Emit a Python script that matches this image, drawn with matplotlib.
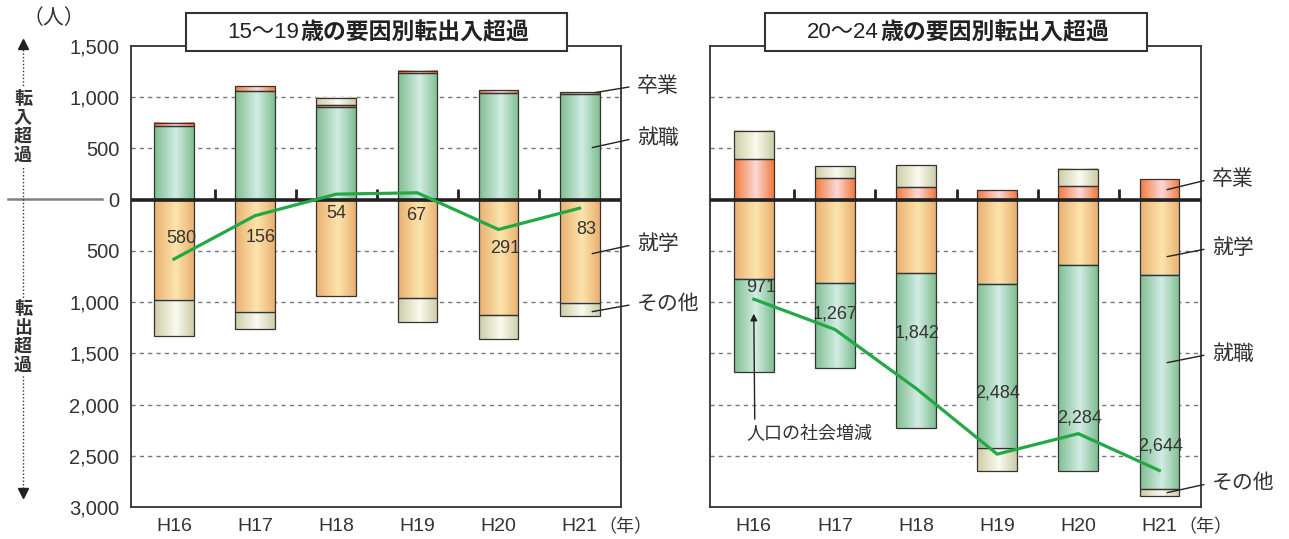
import numpy as np
import matplotlib
matplotlib.use('Agg')
import matplotlib.pyplot as plt
from matplotlib.colors import LinearSegmentedColormap
from matplotlib.patches import Rectangle
from matplotlib.lines import Line2D
from matplotlib.transforms import blended_transform_factory

NUM = ['Liberation Sans', 'Noto Sans CJK JP', 'DejaVu Sans']
JP = ['Noto Sans CJK JP', 'DejaVu Sans']
plt.rcParams['font.family'] = NUM

years = ['H16', 'H17', 'H18', 'H19', 'H20', 'H21']

# 15～19歳
teen_sotsugyo = [33, 46, 20, 22, 29, 19]
teen_shushoku = [719, 1064, 901, 1237, 1041, 1032]
teen_shugaku = [-979, -1097, -939, -963, -1129, -1005]
teen_sonota = [-353, -169, 72, -229, -232, -129]
teen_net = [-580, -156, 54, 67, -291, -83]

# 20～24歳
young_sotsugyo = [394, 212, 127, 94, 130, 202]
young_shushoku = [-908, -830, -1507, -1601, -2014, -2089]
young_shugaku = [-774, -813, -719, -823, -638, -739]
young_sonota = [276, 117, 211, -228, 169, -65]
young_net = [-971, -1267, -1842, -2484, -2284, -2644]

# gradient (edge, highlight) per factor
shades = {
    '卒業': ('#f27a3e', '#fcd9d6'),
    '就職': ('#7fbe90', '#d2ece4'),
    '就学': ('#e9b070', '#fde4ac'),
    'その他': ('#cdcda6', '#fafaf0'),
}
pos_order = ['就職', '卒業', 'その他']
neg_order = ['就学', '就職', 'その他']

W, H = 1289, 539
BAR_W = 0.49
XMIN, XMAX = -0.535, 5.51
grad = np.linspace(0, 1, 128)[np.newaxis, :]


def fx(px):
    return px / W


def fy(py):
    return 1 - py / H


def draw_panel(ax, parts, net, label_dx, label_y):
    x = np.arange(len(years))
    for v in np.arange(-2500, 1001, 500):
        if v != 0:
            ax.axhline(v, color='#777777', lw=1, ls=(0, (3, 3)), zorder=1)

    top = np.zeros(len(years))
    low = np.zeros(len(years))
    stack = [(n, 1) for n in pos_order] + [(n, -1) for n in neg_order]
    for name, sign in stack:
        vals = np.array(parts[name], dtype=float)
        vals = np.where(np.sign(vals) == sign, vals, 0)
        base = top if sign > 0 else low
        edge, light = shades[name]
        cmap = LinearSegmentedColormap.from_list(
            name, [(0, edge), (0.55, light), (1, edge)])
        for i in x:
            if vals[i] == 0:
                continue
            y0, y1 = sorted([base[i], base[i] + vals[i]])
            ax.imshow(grad, extent=(i - BAR_W / 2, i + BAR_W / 2, y0, y1),
                      cmap=cmap, aspect='auto', interpolation='bilinear',
                      zorder=2)
        ax.bar(x[vals != 0], vals[vals != 0], bottom=base[vals != 0],
               width=BAR_W, fill=False, edgecolor='#333333', lw=0.9, zorder=3)
        if sign > 0:
            top = top + vals
        else:
            low = low + vals

    ax.axhline(0, color='#222222', lw=2.6, zorder=3)
    ax.vlines(x[:-1] + 0.5, 0, 100, color='#222222', lw=2, zorder=3)
    ax.plot(x, net, color='#22a845', lw=2.3, zorder=4)
    for i, v in enumerate(net):
        ax.text(i + label_dx[i], label_y[i], f'{abs(v):,}', ha='center',
                va='center', fontsize=13, color='#333333', zorder=5)

    ax.set_xlim(XMIN, XMAX)
    ax.set_ylim(-3000, 1500)
    ax.set_xticks(x)
    ax.set_xticklabels(years, fontsize=14, color='#333333')
    ax.tick_params(axis='x', length=0, pad=8)
    for s in ax.spines.values():
        s.set_color('#333333')
        s.set_linewidth(1.3)
    tr = blended_transform_factory(ax.transData, ax.transAxes)
    ax.text(5.23, -0.043, '（年）', transform=tr, ha='left', va='center',
            fontsize=13, family=JP, color='#333333')


def side_labels(ax, starts, texts_y, text_x):
    for (name, (sx, sy)), ty in zip(starts.items(), texts_y):
        ax.annotate(name, xy=(sx, sy), xytext=(text_x, ty), ha='left',
                    va='center', fontsize=15, family=JP, color='#333333',
                    annotation_clip=False,
                    arrowprops=dict(arrowstyle='-', color='#222222', lw=1,
                                    shrinkA=4, shrinkB=0, relpos=(0, 0.5)))


fig = plt.figure(figsize=(W / 100, H / 100), dpi=100)
ax1 = fig.add_axes([fx(130.6), fy(507), fx(490.4), 461 / H])
ax2 = fig.add_axes([fx(710.4), fy(507), fx(490.4), 461 / H])

draw_panel(ax1,
           {'卒業': teen_sotsugyo, '就職': teen_shushoku,
            '就学': teen_shugaku, 'その他': teen_sonota},
           teen_net,
           [0.09, 0.07, 0.0, -0.02, 0.08, 0.08],
           [-381, -371, -137, -156, -478, -293])
draw_panel(ax2,
           {'卒業': young_sotsugyo, '就職': young_shushoku,
            '就学': young_shugaku, 'その他': young_sonota},
           young_net,
           [0.09, 0.0, 0.01, 0.0, 0.02, 0.01],
           [-859, -1113, -1299, -1885, -2129, -2402])

yt = np.arange(-3000, 1501, 500)
ax1.set_yticks(yt)
ax1.set_yticklabels([f'{abs(v):,}' for v in yt], fontsize=14.5,
                    color='#333333')
ax1.tick_params(axis='y', length=0, pad=8)
ax2.set_yticks(yt)
ax2.set_yticklabels([])
ax2.tick_params(axis='y', length=0)

side_labels(ax1, {'卒業': (5.19, 1045), '就職': (5.155, 508),
                  '就学': (5.155, -527), 'その他': (5.155, -1093)},
            [1113, 605, -430, -1015], 5.71)
side_labels(ax2, {'卒業': (5.095, 98), '就学': (5.095, -556),
                  '就職': (5.095, -1591), 'その他': (5.095, -2860)},
            [205, -469, -1503, -2763], 5.65)

ax2.annotate('人口の社会増減', xy=(0, -1113), xytext=(0.68, -2284),
             ha='center', va='center', fontsize=13, family=JP,
             color='#333333',
             arrowprops=dict(arrowstyle='-|>', color='#222222', lw=1,
                             mutation_scale=10, shrinkA=2, shrinkB=0,
                             relpos=(0.07, 1.0)))

# title boxes
for (x0, x1), num, split in [((186, 567), '15～19', 299),
                             ((765, 1147), '20～24', 879)]:
    fig.add_artist(Rectangle((fx(x0), fy(51)), fx(x1 - x0), 38 / H,
                             transform=fig.transFigure, facecolor='white',
                             edgecolor='#333333', lw=1.5, zorder=10))
    fig.text(fx(split), fy(33), num, ha='right', va='center', fontsize=16,
             color='#222222', zorder=11)
    fig.text(fx(split + 1), fy(33), '歳の要因別転出入超過', ha='left',
             va='center', fontsize=16.5, family=JP, fontweight='bold',
             color='#222222', zorder=11)

# left-hand direction guide
fig.text(fx(54), fy(18), '（人）', ha='center', va='center', fontsize=15,
         family=JP, color='#333333')
fig.add_artist(Line2D([fx(8), fx(102)], [fy(199), fy(199)],
                      color='#808080', lw=1.8))
fig.add_artist(Line2D([fx(23), fx(23)], [fy(46), fy(491)], color='#333333',
                      lw=1, ls=(0, (1, 1.5))))
fig.add_artist(Line2D([fx(23)], [fy(44)], marker='^', ms=7, color='#222222'))
fig.add_artist(Line2D([fx(23)], [fy(493)], marker='v', ms=7, color='#222222'))
for label, yc in [('転\n入\n超\n過', 127), ('転\n出\n超\n過', 337)]:
    fig.text(fx(23), fy(yc), label, ha='center', va='center', fontsize=13,
             family=JP, fontweight='bold', color='#333333', linespacing=1.0,
             bbox=dict(facecolor='white', edgecolor='none', pad=1))

fig.savefig('out.png', dpi=100)
